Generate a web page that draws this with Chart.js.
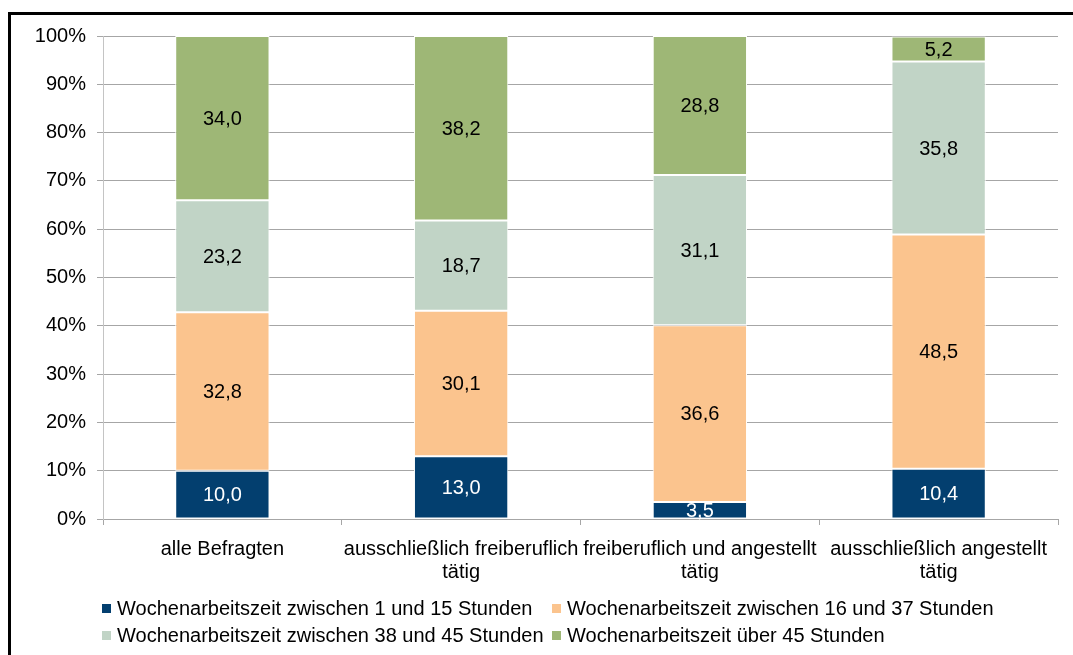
<!DOCTYPE html>
<html>
<head>
<meta charset="utf-8">
<script src="https://cdn.jsdelivr.net/npm/chart.js@4.4.1/dist/chart.umd.min.js"></script>
<style>
  html, body { margin: 0; padding: 0; background: #fff; overflow: hidden; }
  #wrap { position: relative; width: 1073px; height: 655px; }
  #frame { position: absolute; left: 8px; top: 12px; width: 2000px; height: 2000px;
           border-top: 3px solid #000; border-left: 3px solid #000; }
  canvas { position: absolute; left: 0; top: 0; }
  #legend { position: absolute; left: 102px; top: 597px; display: grid;
            grid-template-columns: 450px auto; row-gap: 4px;
            font: 20px "Liberation Sans", Arial, sans-serif; color: #000; }
  #legend .item { display: flex; align-items: center; height: 23px; white-space: nowrap; }
  #legend .box { width: 9px; height: 9px; margin-right: 6px; flex: none; }
</style>
</head>
<body>
<div id="wrap">
  <div id="frame"></div>
  <canvas id="chart" width="1073" height="655"></canvas>
  <div id="legend"></div>
</div>
<script>
var categories = [
  'alle Befragten',
  ['ausschließlich freiberuflich', 'tätig'],
  ['freiberuflich und angestellt', 'tätig'],
  ['ausschließlich angestellt', 'tätig']
];
var seriesNames = [
  'Wochenarbeitszeit zwischen 1 und 15 Stunden',
  'Wochenarbeitszeit zwischen 16 und 37 Stunden',
  'Wochenarbeitszeit zwischen 38 und 45 Stunden',
  'Wochenarbeitszeit über 45 Stunden'
];
var hours1to15 = [10.0, 13.0, 3.5, 10.4];
var hours16to37 = [32.8, 30.1, 36.6, 48.5];
var hours38to45 = [23.2, 18.7, 31.1, 35.8];
var hoursOver45 = [34.0, 38.2, 28.8, 5.2];
var yTicks = [0, 10, 20, 30, 40, 50, 60, 70, 80, 90, 100];

var colors = ['#033f6f', '#fbc48e', '#c1d4c6', '#9eb776'];
var labelColors = ['#ffffff', '#000000', '#000000', '#000000'];
var fontFamily = '"Liberation Sans", Arial, sans-serif';

// value labels in the middle of each segment
var barLabels = {
  id: 'barLabels',
  afterDatasetsDraw: function(chart) {
    var ctx = chart.ctx;
    ctx.save();
    ctx.font = '20px ' + fontFamily;
    ctx.textAlign = 'center';
    ctx.textBaseline = 'middle';
    chart.data.datasets.forEach(function(ds, i) {
      var meta = chart.getDatasetMeta(i);
      meta.data.forEach(function(bar, j) {
        var p = bar.getProps(['x', 'y', 'base'], true);
        ctx.fillStyle = labelColors[i];
        ctx.fillText(ds.data[j].toFixed(1).replace('.', ','), p.x, (p.y + p.base) / 2 + 1);
      });
    });
    ctx.restore();
  }
};

var allSeries = [hours1to15, hours16to37, hours38to45, hoursOver45];

var chart = new Chart(document.getElementById('chart'), {
  type: 'bar',
  data: {
    labels: categories,
    datasets: allSeries.map(function(values, i) {
      return {
        label: seriesNames[i],
        data: values,
        backgroundColor: colors[i],
        borderColor: '#ffffff',
        borderWidth: 1,
        borderSkipped: false,
        categoryPercentage: 0.395,
        barPercentage: 1
      };
    })
  },
  options: {
    responsive: false,
    animation: false,
    layout: { padding: { left: 0, right: 15, top: 36, bottom: 66 } },
    plugins: {
      legend: { display: false },
      tooltip: { enabled: false }
    },
    scales: {
      x: {
        stacked: true,
        grid: { display: true, drawOnChartArea: false, offset: true, tickLength: 6, color: '#a6a6a6' },
        border: { color: '#a6a6a6' },
        ticks: {
          color: '#000',
          padding: 13,
          maxRotation: 0,
          minRotation: 0,
          autoSkip: false,
          font: { family: fontFamily, size: 20, lineHeight: 1.15 }
        },
        afterFit: function(scale) { scale.height = 70; }
      },
      y: {
        stacked: true,
        min: 0,
        max: 100,
        afterBuildTicks: function(scale) {
          scale.ticks = yTicks.map(function(v) { return { value: v }; });
        },
        grid: { color: '#a6a6a6', tickLength: 6 },
        border: { color: '#c4c4c4' },
        ticks: {
          color: '#000',
          padding: 11,
          font: { family: fontFamily, size: 20 },
          callback: function(v) { return v + '%'; }
        },
        afterFit: function(scale) { scale.width = 103; }
      }
    }
  },
  plugins: [barLabels]
});

// legend in two columns, like the original
var legend = document.getElementById('legend');
chart.data.datasets.forEach(function(ds) {
  var item = document.createElement('div');
  item.className = 'item';
  var box = document.createElement('span');
  box.className = 'box';
  box.style.background = ds.backgroundColor;
  item.appendChild(box);
  item.appendChild(document.createTextNode(ds.label));
  legend.appendChild(item);
});
</script>
</body>
</html>
